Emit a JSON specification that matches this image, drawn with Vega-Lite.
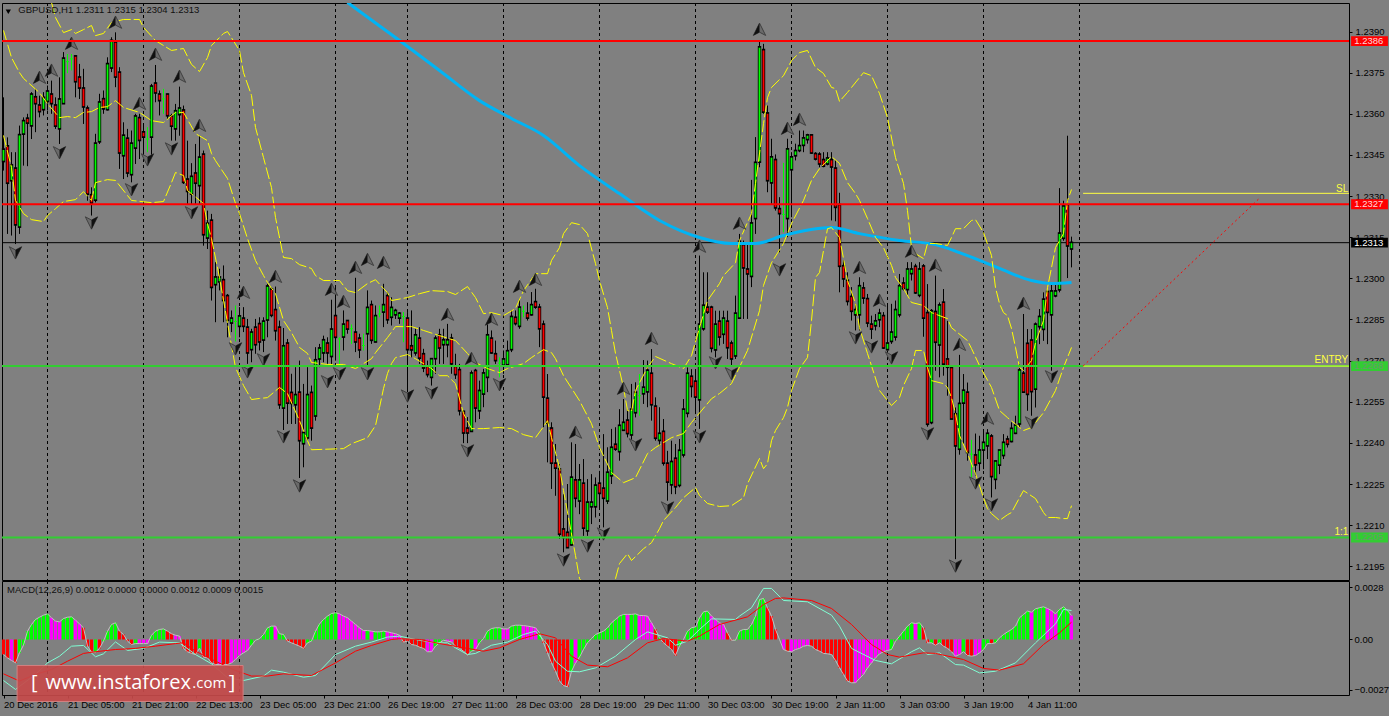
{"$schema":"https://vega.github.io/schema/vega-lite/v6.json","usermeta":{"embedOptions":{"actions":false}},"background":"#808080","padding":{"left":0,"top":2,"right":1,"bottom":7},"autosize":{"type":"pad"},"spacing":-1,"config":{"view":{"stroke":"#000000","strokeWidth":1},"concat":{"spacing":-1},"text":{"font":"Liberation Sans"},"axis":{"grid":false,"domain":false,"tickSize":3,"tickColor":"#000000","labelColor":"#000000","labelFont":"Liberation Sans","labelFontSize":9.5,"labelOverlap":false,"labelFlush":false,"labelBound":false}},
"datasets":{
"seps":[{"i":11},{"i":35},{"i":59},{"i":83},{"i":101},{"i":125},{"i":149},{"i":173},{"i":197},{"i":221},{"i":245},{"i":269}],
"candles":[
{"i":0,"o":1.23429,"h":1.2366,"l":1.23393,"c":1.23468},{"i":1,"o":1.2348,"h":1.23514,"l":1.23162,"c":1.2335},{"i":2,"o":1.23359,"h":1.2346,"l":1.23156,"c":1.23411},{"i":3,"o":1.23399,"h":1.2346,"l":1.23125,"c":1.23198},{"i":4,"o":1.2319,"h":1.23557,"l":1.23162,"c":1.23521},{"i":5,"o":1.23529,"h":1.23587,"l":1.23411,"c":1.23572},{"i":6,"o":1.23581,"h":1.236,"l":1.23409,"c":1.23569},{"i":7,"o":1.23559,"h":1.23679,"l":1.23508,"c":1.23669},{"i":8,"o":1.23659,"h":1.23691,"l":1.23533,"c":1.2364},{"i":9,"o":1.23629,"h":1.23666,"l":1.23587,"c":1.23611},
{"i":10,"o":1.23618,"h":1.23679,"l":1.23594,"c":1.23657},{"i":11,"o":1.23648,"h":1.23703,"l":1.23612,"c":1.2368},{"i":12,"o":1.23669,"h":1.23721,"l":1.236,"c":1.2364},{"i":13,"o":1.23629,"h":1.2366,"l":1.23545,"c":1.23558},{"i":14,"o":1.23548,"h":1.23733,"l":1.2349,"c":1.23651},{"i":15,"o":1.2364,"h":1.23825,"l":1.23636,"c":1.238},{"i":16,"o":1.2379,"h":1.23818,"l":1.23748,"c":1.2379},{"i":17,"o":1.238,"h":1.23818,"l":1.23758,"c":1.238},{"i":18,"o":1.23808,"h":1.23812,"l":1.2366,"c":1.2372},{"i":19,"o":1.23731,"h":1.23782,"l":1.23654,"c":1.23697},
{"i":20,"o":1.23691,"h":1.23764,"l":1.23563,"c":1.23628},{"i":21,"o":1.23618,"h":1.2363,"l":1.23283,"c":1.2331},{"i":22,"o":1.23302,"h":1.23332,"l":1.23229,"c":1.23277},{"i":23,"o":1.23288,"h":1.23527,"l":1.23277,"c":1.2349},{"i":24,"o":1.23501,"h":1.23673,"l":1.2349,"c":1.2364},{"i":25,"o":1.23652,"h":1.23685,"l":1.236,"c":1.23621},{"i":26,"o":1.23618,"h":1.23806,"l":1.23612,"c":1.2378},{"i":27,"o":1.2377,"h":1.23879,"l":1.23752,"c":1.23865},{"i":28,"o":1.23859,"h":1.23897,"l":1.23697,"c":1.23737},{"i":29,"o":1.23749,"h":1.2377,"l":1.23399,"c":1.2346},
{"i":30,"o":1.2345,"h":1.23569,"l":1.23362,"c":1.23519},{"i":31,"o":1.23508,"h":1.23545,"l":1.23369,"c":1.23387},{"i":32,"o":1.23381,"h":1.23539,"l":1.2335,"c":1.2349},{"i":33,"o":1.23478,"h":1.236,"l":1.23417,"c":1.23589},{"i":34,"o":1.23583,"h":1.236,"l":1.23435,"c":1.23506},{"i":35,"o":1.23531,"h":1.23557,"l":1.23454,"c":1.23518},{"i":36,"o":1.23508,"h":1.23551,"l":1.2346,"c":1.23508},{"i":37,"o":1.23518,"h":1.23709,"l":1.23441,"c":1.23698},{"i":38,"o":1.23709,"h":1.23778,"l":1.23642,"c":1.23679},{"i":39,"o":1.23669,"h":1.23685,"l":1.23594,"c":1.23651},
{"i":40,"o":1.23654,"h":1.23691,"l":1.236,"c":1.23654},{"i":41,"o":1.23669,"h":1.23673,"l":1.23581,"c":1.23596},{"i":42,"o":1.23589,"h":1.236,"l":1.23502,"c":1.23558},{"i":43,"o":1.23548,"h":1.23636,"l":1.23502,"c":1.23608},{"i":44,"o":1.236,"h":1.23699,"l":1.2352,"c":1.23618},{"i":45,"o":1.23611,"h":1.2363,"l":1.23344,"c":1.23353},{"i":46,"o":1.23359,"h":1.23502,"l":1.23271,"c":1.2332},{"i":47,"o":1.2331,"h":1.2342,"l":1.23269,"c":1.23369},{"i":48,"o":1.23381,"h":1.2349,"l":1.23271,"c":1.2335},{"i":49,"o":1.23341,"h":1.2352,"l":1.23271,"c":1.23439},
{"i":50,"o":1.2345,"h":1.23466,"l":1.23119,"c":1.23162},{"i":51,"o":1.2315,"h":1.23247,"l":1.23107,"c":1.23198},{"i":52,"o":1.23209,"h":1.23235,"l":1.22919,"c":1.2297},{"i":53,"o":1.2298,"h":1.23059,"l":1.2284,"c":1.23002},{"i":54,"o":1.2299,"h":1.23035,"l":1.22956,"c":1.23002},{"i":55,"o":1.22992,"h":1.23047,"l":1.2284,"c":1.22922},{"i":56,"o":1.22934,"h":1.22943,"l":1.22785,"c":1.2285},{"i":57,"o":1.2284,"h":1.22883,"l":1.22804,"c":1.22852},{"i":58,"o":1.22843,"h":1.22901,"l":1.2277,"c":1.22843},{"i":59,"o":1.22828,"h":1.22895,"l":1.22785,"c":1.2286},
{"i":60,"o":1.22852,"h":1.22895,"l":1.22804,"c":1.22828},{"i":61,"o":1.22819,"h":1.22852,"l":1.22688,"c":1.22731},{"i":62,"o":1.22743,"h":1.22816,"l":1.22694,"c":1.22801},{"i":63,"o":1.22819,"h":1.22852,"l":1.22725,"c":1.22761},{"i":64,"o":1.22832,"h":1.22858,"l":1.22737,"c":1.22771},{"i":65,"o":1.22778,"h":1.22858,"l":1.22731,"c":1.22841},{"i":66,"o":1.22851,"h":1.2298,"l":1.22785,"c":1.22969},{"i":67,"o":1.22958,"h":1.22968,"l":1.22858,"c":1.22868},{"i":68,"o":1.22883,"h":1.2297,"l":1.22773,"c":1.22812},{"i":69,"o":1.22819,"h":1.22846,"l":1.22524,"c":1.22542},
{"i":70,"o":1.2253,"h":1.22819,"l":1.22447,"c":1.22751},{"i":71,"o":1.22761,"h":1.22779,"l":1.22469,"c":1.22548},{"i":72,"o":1.22581,"h":1.22652,"l":1.22469,"c":1.22547},{"i":73,"o":1.22542,"h":1.22676,"l":1.22469,"c":1.22573},{"i":74,"o":1.22582,"h":1.227,"l":1.22272,"c":1.22411},{"i":75,"o":1.224,"h":1.22615,"l":1.22311,"c":1.22435},{"i":76,"o":1.22421,"h":1.22676,"l":1.22408,"c":1.22573},{"i":77,"o":1.22581,"h":1.22609,"l":1.22408,"c":1.22457},{"i":78,"o":1.22501,"h":1.22749,"l":1.22481,"c":1.227},{"i":79,"o":1.22709,"h":1.22761,"l":1.22676,"c":1.22743},
{"i":80,"o":1.22731,"h":1.22791,"l":1.22694,"c":1.22773},{"i":81,"o":1.22761,"h":1.22785,"l":1.22688,"c":1.22731},{"i":82,"o":1.22718,"h":1.22922,"l":1.22682,"c":1.22812},{"i":83,"o":1.22861,"h":1.22968,"l":1.227,"c":1.22788},{"i":84,"o":1.22779,"h":1.22785,"l":1.22686,"c":1.22779},{"i":85,"o":1.22789,"h":1.22883,"l":1.22737,"c":1.2283},{"i":86,"o":1.22843,"h":1.22846,"l":1.22798,"c":1.22818},{"i":87,"o":1.22816,"h":1.22832,"l":1.22761,"c":1.22816},{"i":88,"o":1.22801,"h":1.23002,"l":1.22731,"c":1.22771},{"i":89,"o":1.22779,"h":1.22798,"l":1.22709,"c":1.22742},
{"i":90,"o":1.22755,"h":1.22798,"l":1.22737,"c":1.22755},{"i":91,"o":1.22801,"h":1.22956,"l":1.22682,"c":1.22891},{"i":92,"o":1.22901,"h":1.22919,"l":1.22761,"c":1.22777},{"i":93,"o":1.22771,"h":1.22901,"l":1.22767,"c":1.22861},{"i":94,"o":1.2287,"h":1.22901,"l":1.22858,"c":1.2287},{"i":95,"o":1.2288,"h":1.2298,"l":1.22822,"c":1.22901},{"i":96,"o":1.22934,"h":1.2295,"l":1.22834,"c":1.22852},{"i":97,"o":1.22861,"h":1.22931,"l":1.22828,"c":1.22891},{"i":98,"o":1.2287,"h":1.22889,"l":1.22852,"c":1.2288},{"i":99,"o":1.22858,"h":1.22877,"l":1.22834,"c":1.2287},
{"i":100,"o":1.22861,"h":1.22877,"l":1.22767,"c":1.22861},{"i":101,"o":1.22852,"h":1.22877,"l":1.22585,"c":1.22743},{"i":102,"o":1.22751,"h":1.22883,"l":1.22712,"c":1.22742},{"i":103,"o":1.22731,"h":1.22816,"l":1.22718,"c":1.22791},{"i":104,"o":1.22779,"h":1.22822,"l":1.22688,"c":1.22712},{"i":105,"o":1.22722,"h":1.22743,"l":1.22658,"c":1.22676},{"i":106,"o":1.22676,"h":1.227,"l":1.22639,"c":1.22652},{"i":107,"o":1.22642,"h":1.22706,"l":1.22609,"c":1.22704},{"i":108,"o":1.2271,"h":1.22791,"l":1.22652,"c":1.22779},{"i":109,"o":1.22791,"h":1.22816,"l":1.22688,"c":1.22749},
{"i":110,"o":1.22761,"h":1.22816,"l":1.22688,"c":1.22773},{"i":111,"o":1.22761,"h":1.22834,"l":1.22712,"c":1.22773},{"i":112,"o":1.22779,"h":1.22798,"l":1.22652,"c":1.22691},{"i":113,"o":1.22676,"h":1.22725,"l":1.22633,"c":1.22652},{"i":114,"o":1.22664,"h":1.22688,"l":1.225,"c":1.2252},{"i":115,"o":1.22512,"h":1.22518,"l":1.22399,"c":1.22439},{"i":116,"o":1.22451,"h":1.22494,"l":1.22399,"c":1.22439},{"i":117,"o":1.22445,"h":1.22664,"l":1.22445,"c":1.22652},{"i":118,"o":1.22661,"h":1.2267,"l":1.22475,"c":1.2253},{"i":119,"o":1.2252,"h":1.22627,"l":1.22487,"c":1.22588},
{"i":120,"o":1.22581,"h":1.2267,"l":1.2253,"c":1.22652},{"i":121,"o":1.22642,"h":1.22834,"l":1.22585,"c":1.22791},{"i":122,"o":1.22779,"h":1.2281,"l":1.22725,"c":1.22731},{"i":123,"o":1.22722,"h":1.22773,"l":1.22688,"c":1.22703},{"i":124,"o":1.22691,"h":1.22712,"l":1.22639,"c":1.22691},{"i":125,"o":1.22686,"h":1.22737,"l":1.22652,"c":1.22703},{"i":126,"o":1.22688,"h":1.22773,"l":1.22688,"c":1.22733},{"i":127,"o":1.22743,"h":1.22883,"l":1.22731,"c":1.22858},{"i":128,"o":1.22855,"h":1.22883,"l":1.22828,"c":1.22838},{"i":129,"o":1.22828,"h":1.22925,"l":1.22816,"c":1.22892},
{"i":130,"o":1.2288,"h":1.22901,"l":1.22858,"c":1.2288},{"i":131,"o":1.2287,"h":1.22913,"l":1.22846,"c":1.22858},{"i":132,"o":1.2287,"h":1.2295,"l":1.22864,"c":1.22901},{"i":133,"o":1.22912,"h":1.22962,"l":1.22889,"c":1.22898},{"i":134,"o":1.22892,"h":1.22907,"l":1.22749,"c":1.22819},{"i":135,"o":1.2283,"h":1.22846,"l":1.22457,"c":1.2257},{"i":136,"o":1.2256,"h":1.22651,"l":1.22329,"c":1.22475},{"i":137,"o":1.22451,"h":1.22475,"l":1.22232,"c":1.22329},{"i":138,"o":1.22323,"h":1.22396,"l":1.22207,"c":1.22311},{"i":139,"o":1.22302,"h":1.22323,"l":1.2205,"c":1.2207},
{"i":140,"o":1.22083,"h":1.22213,"l":1.22001,"c":1.22058},{"i":141,"o":1.22071,"h":1.2225,"l":1.22019,"c":1.22021},{"i":142,"o":1.22031,"h":1.22402,"l":1.22025,"c":1.22272},{"i":143,"o":1.22262,"h":1.22396,"l":1.22165,"c":1.22201},{"i":144,"o":1.22191,"h":1.22323,"l":1.2214,"c":1.22262},{"i":145,"o":1.2225,"h":1.22341,"l":1.22061,"c":1.22092},{"i":146,"o":1.22082,"h":1.22268,"l":1.22061,"c":1.22181},{"i":147,"o":1.2217,"h":1.22286,"l":1.22104,"c":1.22181},{"i":148,"o":1.2217,"h":1.22274,"l":1.22128,"c":1.22243},{"i":149,"o":1.2225,"h":1.22298,"l":1.22165,"c":1.22219},
{"i":150,"o":1.22232,"h":1.22432,"l":1.22092,"c":1.22201},{"i":151,"o":1.22191,"h":1.22384,"l":1.22177,"c":1.2229},{"i":152,"o":1.22283,"h":1.22451,"l":1.2225,"c":1.22381},{"i":153,"o":1.22392,"h":1.22457,"l":1.22371,"c":1.2238},{"i":154,"o":1.22371,"h":1.22523,"l":1.22335,"c":1.22461},{"i":155,"o":1.22449,"h":1.2256,"l":1.22444,"c":1.22472},{"i":156,"o":1.2248,"h":1.22523,"l":1.2242,"c":1.22437},{"i":157,"o":1.22432,"h":1.22615,"l":1.22396,"c":1.2252},{"i":158,"o":1.22513,"h":1.22621,"l":1.22493,"c":1.22582},{"i":159,"o":1.22572,"h":1.22651,"l":1.22499,"c":1.22572},
{"i":160,"o":1.22582,"h":1.22702,"l":1.22542,"c":1.226},{"i":161,"o":1.22589,"h":1.227,"l":1.2253,"c":1.22662},{"i":162,"o":1.22651,"h":1.22742,"l":1.22481,"c":1.22542},{"i":163,"o":1.22531,"h":1.22566,"l":1.22408,"c":1.2242},{"i":164,"o":1.22412,"h":1.2253,"l":1.2239,"c":1.22432},{"i":165,"o":1.22439,"h":1.22487,"l":1.22317,"c":1.22329},{"i":166,"o":1.22323,"h":1.22371,"l":1.22189,"c":1.2226},{"i":167,"o":1.2225,"h":1.22408,"l":1.22213,"c":1.22329},{"i":168,"o":1.22341,"h":1.22396,"l":1.22213,"c":1.22243},{"i":169,"o":1.22248,"h":1.22414,"l":1.22238,"c":1.2237},
{"i":170,"o":1.22359,"h":1.2256,"l":1.22347,"c":1.2252},{"i":171,"o":1.22511,"h":1.22675,"l":1.22493,"c":1.22651},{"i":172,"o":1.2264,"h":1.22669,"l":1.22566,"c":1.22609},{"i":173,"o":1.22622,"h":1.22669,"l":1.22505,"c":1.2257},{"i":174,"o":1.2256,"h":1.23083,"l":1.22451,"c":1.2283},{"i":175,"o":1.22819,"h":1.23022,"l":1.22809,"c":1.22899},{"i":176,"o":1.22892,"h":1.23022,"l":1.2287,"c":1.2288},{"i":177,"o":1.22892,"h":1.229,"l":1.2273,"c":1.22748},{"i":178,"o":1.22742,"h":1.22882,"l":1.22712,"c":1.2283},{"i":179,"o":1.22841,"h":1.22882,"l":1.22755,"c":1.22789},
{"i":180,"o":1.22799,"h":1.22882,"l":1.22761,"c":1.22852},{"i":181,"o":1.22841,"h":1.22882,"l":1.22706,"c":1.2275},{"i":182,"o":1.22761,"h":1.22773,"l":1.22682,"c":1.22709},{"i":183,"o":1.2272,"h":1.22937,"l":1.22706,"c":1.2287},{"i":184,"o":1.22858,"h":1.23162,"l":1.22852,"c":1.23132},{"i":185,"o":1.2312,"h":1.23138,"l":1.22852,"c":1.23041},{"i":186,"o":1.23031,"h":1.23126,"l":1.22852,"c":1.23019},{"i":187,"o":1.2301,"h":1.23359,"l":1.22968,"c":1.23199},{"i":188,"o":1.23221,"h":1.23515,"l":1.23162,"c":1.2342},{"i":189,"o":1.23427,"h":1.23868,"l":1.23405,"c":1.23841},
{"i":190,"o":1.23831,"h":1.23855,"l":1.236,"c":1.23609},{"i":191,"o":1.236,"h":1.2363,"l":1.23314,"c":1.23359},{"i":192,"o":1.23351,"h":1.23509,"l":1.23272,"c":1.2344},{"i":193,"o":1.2343,"h":1.23452,"l":1.23247,"c":1.2326},{"i":194,"o":1.23251,"h":1.23296,"l":1.23095,"c":1.23239},{"i":195,"o":1.23233,"h":1.23421,"l":1.23168,"c":1.23233},{"i":196,"o":1.23221,"h":1.23509,"l":1.2315,"c":1.23469},{"i":197,"o":1.23399,"h":1.2346,"l":1.23223,"c":1.2344},{"i":198,"o":1.2345,"h":1.23491,"l":1.2343,"c":1.23463},{"i":199,"o":1.23469,"h":1.23539,"l":1.2346,"c":1.23481},
{"i":200,"o":1.23488,"h":1.23539,"l":1.2346,"c":1.23509},{"i":201,"o":1.23509,"h":1.23527,"l":1.23491,"c":1.2352},{"i":202,"o":1.2352,"h":1.23521,"l":1.23454,"c":1.2346},{"i":203,"o":1.23452,"h":1.2346,"l":1.2343,"c":1.23438},{"i":204,"o":1.2345,"h":1.2346,"l":1.23405,"c":1.2342},{"i":205,"o":1.2343,"h":1.2346,"l":1.23405,"c":1.23412},{"i":206,"o":1.2342,"h":1.2346,"l":1.23412,"c":1.23436},{"i":207,"o":1.2343,"h":1.2346,"l":1.23211,"c":1.23409},{"i":208,"o":1.23399,"h":1.2343,"l":1.23208,"c":1.23262},{"i":209,"o":1.23266,"h":1.23312,"l":1.22949,"c":1.23047},
{"i":210,"o":1.23043,"h":1.23065,"l":1.22968,"c":1.23001},{"i":211,"o":1.2299,"h":1.23022,"l":1.22901,"c":1.22919},{"i":212,"o":1.22931,"h":1.22968,"l":1.22846,"c":1.22883},{"i":213,"o":1.2287,"h":1.22907,"l":1.2281,"c":1.22883},{"i":214,"o":1.2287,"h":1.23004,"l":1.2281,"c":1.2297},{"i":215,"o":1.22962,"h":1.22986,"l":1.22907,"c":1.22931},{"i":216,"o":1.22923,"h":1.22943,"l":1.22822,"c":1.2284},{"i":217,"o":1.2283,"h":1.22864,"l":1.22779,"c":1.22818},{"i":218,"o":1.2283,"h":1.2287,"l":1.2281,"c":1.22842},{"i":219,"o":1.22852,"h":1.22889,"l":1.22822,"c":1.2287},
{"i":220,"o":1.22861,"h":1.22877,"l":1.22743,"c":1.22749},{"i":221,"o":1.22743,"h":1.22907,"l":1.22737,"c":1.22761},{"i":222,"o":1.22773,"h":1.22907,"l":1.22761,"c":1.22801},{"i":223,"o":1.22789,"h":1.22919,"l":1.22773,"c":1.22883},{"i":224,"o":1.2287,"h":1.23016,"l":1.22858,"c":1.2297},{"i":225,"o":1.2298,"h":1.23004,"l":1.22956,"c":1.22965},{"i":226,"o":1.22962,"h":1.23059,"l":1.22937,"c":1.23031},{"i":227,"o":1.2302,"h":1.23059,"l":1.22992,"c":1.23031},{"i":228,"o":1.23041,"h":1.23053,"l":1.22943,"c":1.2295},{"i":229,"o":1.22941,"h":1.23059,"l":1.22931,"c":1.23031},
{"i":230,"o":1.23042,"h":1.23052,"l":1.22787,"c":1.22858},{"i":231,"o":1.22872,"h":1.22979,"l":1.22459,"c":1.22471},{"i":232,"o":1.22477,"h":1.22888,"l":1.22468,"c":1.22879},{"i":233,"o":1.22876,"h":1.2301,"l":1.22663,"c":1.2277},{"i":234,"o":1.2276,"h":1.22912,"l":1.22639,"c":1.229},{"i":235,"o":1.2291,"h":1.22961,"l":1.22645,"c":1.2269},{"i":236,"o":1.22703,"h":1.22845,"l":1.22572,"c":1.22679},{"i":237,"o":1.22672,"h":1.22681,"l":1.22487,"c":1.2249},{"i":238,"o":1.22503,"h":1.22529,"l":1.21976,"c":1.22392},{"i":239,"o":1.2238,"h":1.22721,"l":1.22357,"c":1.22541},
{"i":240,"o":1.22548,"h":1.22651,"l":1.22395,"c":1.22589},{"i":241,"o":1.22582,"h":1.2262,"l":1.22335,"c":1.22368},{"i":242,"o":1.22359,"h":1.22411,"l":1.22274,"c":1.22359},{"i":243,"o":1.22353,"h":1.22434,"l":1.2228,"c":1.22323},{"i":244,"o":1.22329,"h":1.22426,"l":1.22298,"c":1.22371},{"i":245,"o":1.22377,"h":1.2245,"l":1.22304,"c":1.22399},{"i":246,"o":1.22392,"h":1.2245,"l":1.22341,"c":1.22432},{"i":247,"o":1.22422,"h":1.22432,"l":1.22201,"c":1.2228},{"i":248,"o":1.2227,"h":1.22335,"l":1.22231,"c":1.22331},{"i":249,"o":1.22322,"h":1.22371,"l":1.22286,"c":1.22371},
{"i":250,"o":1.22357,"h":1.22432,"l":1.22341,"c":1.22399},{"i":251,"o":1.22411,"h":1.22426,"l":1.22383,"c":1.22398},{"i":252,"o":1.22408,"h":1.22475,"l":1.22402,"c":1.2245},{"i":253,"o":1.22438,"h":1.22499,"l":1.22432,"c":1.22462},{"i":254,"o":1.22472,"h":1.22687,"l":1.22456,"c":1.22663},{"i":255,"o":1.22651,"h":1.2287,"l":1.22584,"c":1.22588},{"i":256,"o":1.2276,"h":1.22815,"l":1.22517,"c":1.2258},{"i":257,"o":1.22772,"h":1.22815,"l":1.22499,"c":1.2259},{"i":258,"o":1.22599,"h":1.22839,"l":1.22529,"c":1.2283},{"i":259,"o":1.22827,"h":1.22888,"l":1.2276,"c":1.22858},
{"i":260,"o":1.22817,"h":1.22949,"l":1.22772,"c":1.22921},{"i":261,"o":1.22949,"h":1.22949,"l":1.2276,"c":1.22879},{"i":262,"o":1.2287,"h":1.22979,"l":1.22663,"c":1.22951},{"i":263,"o":1.22939,"h":1.22979,"l":1.22931,"c":1.22951},{"i":264,"o":1.22961,"h":1.23329,"l":1.22949,"c":1.23162},{"i":265,"o":1.23149,"h":1.23283,"l":1.23137,"c":1.23261},{"i":266,"o":1.23265,"h":1.2352,"l":1.23001,"c":1.23121},{"i":267,"o":1.2311,"h":1.23152,"l":1.2304,"c":1.23128}],
"up":[{"i":9,"p":1.23732},{"i":12,"p":1.23758},{"i":17,"p":1.23856},{"i":28,"p":1.23933},{"i":34,"p":1.23637},{"i":38,"p":1.23816},{"i":44,"p":1.23736},{"i":49,"p":1.23557},{"i":60,"p":1.22948},{"i":68,"p":1.23006},{"i":82,"p":1.22959},{"i":85,"p":1.22915},{"i":88,"p":1.23039},{"i":91,"p":1.23068},{"i":95,"p":1.23057},{"i":111,"p":1.22868},{"i":117,"p":1.22707},{"i":122,"p":1.2285},{"i":129,"p":1.2297},{"i":133,"p":1.22995},{"i":143,"p":1.22438},{"i":155,"p":1.22598},{"i":162,"p":1.2278},{"i":174,"p":1.23116},{"i":184,"p":1.232},{"i":189,"p":1.23907},{"i":196,"p":1.23546},{"i":199,"p":1.23579},{"i":214,"p":1.23039},{"i":219,"p":1.22919},{"i":227,"p":1.23098},{"i":233,"p":1.23047},{"i":239,"p":1.22758},{"i":246,"p":1.22489},{"i":255,"p":1.22908}],
"down":[{"i":3,"p":1.23094},{"i":14,"p":1.23459},{"i":22,"p":1.23203},{"i":32,"p":1.23324},{"i":36,"p":1.23433},{"i":42,"p":1.23473},{"i":47,"p":1.2324},{"i":58,"p":1.22744},{"i":61,"p":1.2266},{"i":65,"p":1.22704},{"i":70,"p":1.22423},{"i":74,"p":1.22244},{"i":81,"p":1.22624},{"i":84,"p":1.22653},{"i":91,"p":1.22653},{"i":101,"p":1.22572},{"i":107,"p":1.22583},{"i":116,"p":1.22372},{"i":124,"p":1.22613},{"i":140,"p":1.21974},{"i":146,"p":1.22025},{"i":150,"p":1.22069},{"i":158,"p":1.22394},{"i":166,"p":1.22164},{"i":174,"p":1.22423},{"i":178,"p":1.22693},{"i":182,"p":1.22653},{"i":194,"p":1.23032},{"i":213,"p":1.22784},{"i":217,"p":1.22751},{"i":222,"p":1.22711},{"i":231,"p":1.22434},{"i":238,"p":1.21952},{"i":243,"p":1.22255},{"i":247,"p":1.22175},{"i":257,"p":1.22474},{"i":262,"p":1.22642}],
"ma":[{"i":86,"p":1.24006},{"i":99,"p":1.23867},{"i":109,"p":1.23758},{"i":119,"p":1.23648},{"i":127,"p":1.23583},{"i":135,"p":1.23521},{"i":144,"p":1.23411},{"i":154,"p":1.23309},{"i":164,"p":1.23211},{"i":174,"p":1.23149},{"i":182,"p":1.23127},{"i":188,"p":1.23127},{"i":195,"p":1.23156},{"i":207,"p":1.23185},{"i":214,"p":1.23163},{"i":224,"p":1.23138},{"i":233,"p":1.23123},{"i":239,"p":1.23094},{"i":249,"p":1.23036},{"i":257,"p":1.22992},{"i":262,"p":1.22981},{"i":267,"p":1.22985}],
"bmid":[{"i":0,"p":1.23904},{"i":2,"p":1.23805},{"i":4,"p":1.2375},{"i":5,"p":1.23729},{"i":9,"p":1.23677},{"i":11,"p":1.23637},{"i":14,"p":1.23586},{"i":16,"p":1.2359},{"i":18,"p":1.23586},{"i":20,"p":1.23605},{"i":22,"p":1.23608},{"i":24,"p":1.23623},{"i":26,"p":1.23626},{"i":28,"p":1.23648},{"i":30,"p":1.23623},{"i":34,"p":1.23605},{"i":37,"p":1.23575},{"i":40,"p":1.23568},{"i":43,"p":1.23605},{"i":45,"p":1.23605},{"i":48,"p":1.23528},{"i":51,"p":1.23502},{"i":52,"p":1.23455},{"i":53,"p":1.23429},{"i":56,"p":1.23364},{"i":58,"p":1.23273},{"i":59,"p":1.23236},{"i":61,"p":1.23145},{"i":63,"p":1.23065},{"i":65,"p":1.2301},{"i":66,"p":1.22985},{"i":68,"p":1.22944},{"i":70,"p":1.22846},{"i":72,"p":1.22802},{"i":74,"p":1.22748},{"i":76,"p":1.22726},{"i":77,"p":1.22693},{"i":81,"p":1.22686},{"i":85,"p":1.22686},{"i":88,"p":1.22671},{"i":90,"p":1.22689},{"i":92,"p":1.22707},{"i":93,"p":1.22729},{"i":96,"p":1.22784},{"i":98,"p":1.22824},{"i":102,"p":1.22824},{"i":105,"p":1.2281},{"i":109,"p":1.22791},{"i":113,"p":1.22773},{"i":116,"p":1.22726},{"i":118,"p":1.22693},{"i":121,"p":1.22671},{"i":124,"p":1.22656},{"i":126,"p":1.22671},{"i":130,"p":1.22689},{"i":132,"p":1.22711},{"i":135,"p":1.2274},{"i":137,"p":1.22729},{"i":138,"p":1.22707},{"i":140,"p":1.22645},{"i":144,"p":1.22554},{"i":147,"p":1.2247},{"i":149,"p":1.22383},{"i":152,"p":1.22292},{"i":155,"p":1.22255},{"i":158,"p":1.22273},{"i":161,"p":1.22361},{"i":163,"p":1.22383},{"i":167,"p":1.22419},{"i":170,"p":1.22434},{"i":172,"p":1.22474},{"i":177,"p":1.22561},{"i":179,"p":1.2258},{"i":182,"p":1.22616},{"i":186,"p":1.22737},{"i":189,"p":1.22882},{"i":190,"p":1.22974},{"i":192,"p":1.23057},{"i":195,"p":1.23127},{"i":197,"p":1.232},{"i":200,"p":1.23284},{"i":202,"p":1.23357},{"i":204,"p":1.234},{"i":207,"p":1.23444},{"i":209,"p":1.23419},{"i":211,"p":1.23349},{"i":213,"p":1.23309},{"i":214,"p":1.23284},{"i":216,"p":1.23218},{"i":218,"p":1.23149},{"i":220,"p":1.23112},{"i":222,"p":1.23047},{"i":223,"p":1.23003},{"i":225,"p":1.22963},{"i":227,"p":1.22912},{"i":230,"p":1.22901},{"i":232,"p":1.22875},{"i":236,"p":1.22853},{"i":237,"p":1.2282},{"i":241,"p":1.22773},{"i":242,"p":1.22744},{"i":244,"p":1.22682},{"i":247,"p":1.22602},{"i":249,"p":1.22518},{"i":251,"p":1.22492},{"i":255,"p":1.22445},{"i":257,"p":1.22456},{"i":260,"p":1.2251},{"i":263,"p":1.22591},{"i":265,"p":1.22675},{"i":267,"p":1.22748}],
"bup":[{"i":12,"p":1.24006},{"i":13,"p":1.23951},{"i":15,"p":1.23896},{"i":17,"p":1.23907},{"i":18,"p":1.23893},{"i":20,"p":1.23907},{"i":22,"p":1.23922},{"i":23,"p":1.23885},{"i":25,"p":1.23893},{"i":27,"p":1.23933},{"i":30,"p":1.23944},{"i":34,"p":1.23944},{"i":35,"p":1.23915},{"i":38,"p":1.23867},{"i":42,"p":1.23831},{"i":45,"p":1.23838},{"i":47,"p":1.2378},{"i":49,"p":1.23754},{"i":51,"p":1.23805},{"i":52,"p":1.23849},{"i":55,"p":1.23893},{"i":56,"p":1.239},{"i":59,"p":1.23831},{"i":60,"p":1.2375},{"i":62,"p":1.23667},{"i":63,"p":1.2355},{"i":65,"p":1.2344},{"i":67,"p":1.23331},{"i":68,"p":1.23222},{"i":70,"p":1.23076},{"i":72,"p":1.23072},{"i":74,"p":1.2305},{"i":77,"p":1.23036},{"i":78,"p":1.2301},{"i":80,"p":1.22992},{"i":84,"p":1.22992},{"i":86,"p":1.22955},{"i":88,"p":1.22948},{"i":91,"p":1.22981},{"i":93,"p":1.22995},{"i":95,"p":1.22963},{"i":96,"p":1.22948},{"i":97,"p":1.22919},{"i":101,"p":1.2293},{"i":104,"p":1.22944},{"i":107,"p":1.22955},{"i":111,"p":1.22952},{"i":113,"p":1.22941},{"i":116,"p":1.2297},{"i":118,"p":1.2293},{"i":120,"p":1.22871},{"i":122,"p":1.22875},{"i":125,"p":1.22864},{"i":128,"p":1.2289},{"i":130,"p":1.22955},{"i":133,"p":1.23017},{"i":136,"p":1.23017},{"i":137,"p":1.23065},{"i":139,"p":1.23112},{"i":140,"p":1.23163},{"i":142,"p":1.23203},{"i":144,"p":1.23196},{"i":146,"p":1.23163},{"i":148,"p":1.23054},{"i":149,"p":1.22992},{"i":151,"p":1.22893},{"i":152,"p":1.2281},{"i":153,"p":1.22726},{"i":154,"p":1.22664},{"i":155,"p":1.22602},{"i":156,"p":1.22518},{"i":157,"p":1.22514},{"i":158,"p":1.22591},{"i":161,"p":1.22675},{"i":163,"p":1.22715},{"i":167,"p":1.22689},{"i":170,"p":1.22671},{"i":172,"p":1.22718},{"i":174,"p":1.2282},{"i":176,"p":1.22919},{"i":179,"p":1.22981},{"i":180,"p":1.2301},{"i":183,"p":1.23057},{"i":184,"p":1.23138},{"i":187,"p":1.23236},{"i":188,"p":1.23346},{"i":190,"p":1.23564},{"i":191,"p":1.23659},{"i":192,"p":1.23696},{"i":195,"p":1.23739},{"i":197,"p":1.23794},{"i":199,"p":1.23823},{"i":201,"p":1.23831},{"i":203,"p":1.23769},{"i":205,"p":1.23747},{"i":207,"p":1.23696},{"i":208,"p":1.23692},{"i":209,"p":1.23645},{"i":211,"p":1.23678},{"i":214,"p":1.23732},{"i":215,"p":1.2375},{"i":217,"p":1.23739},{"i":219,"p":1.23674},{"i":221,"p":1.23586},{"i":223,"p":1.2344},{"i":225,"p":1.23346},{"i":226,"p":1.23247},{"i":227,"p":1.23112},{"i":228,"p":1.2309},{"i":230,"p":1.23072},{"i":231,"p":1.23127},{"i":233,"p":1.23127},{"i":236,"p":1.2312},{"i":237,"p":1.23149},{"i":238,"p":1.23181},{"i":240,"p":1.23181},{"i":242,"p":1.23211},{"i":243,"p":1.23214},{"i":245,"p":1.23167},{"i":247,"p":1.23083},{"i":248,"p":1.22966},{"i":249,"p":1.22908},{"i":250,"p":1.22875},{"i":251,"p":1.22864},{"i":252,"p":1.22817},{"i":253,"p":1.22748},{"i":254,"p":1.22675},{"i":255,"p":1.22664},{"i":257,"p":1.227},{"i":258,"p":1.22766},{"i":260,"p":1.22846},{"i":261,"p":1.22966},{"i":263,"p":1.23112},{"i":265,"p":1.23163},{"i":266,"p":1.23284},{"i":267,"p":1.23324}],
"blow":[{"i":0,"p":1.23521},{"i":2,"p":1.23404},{"i":3,"p":1.23284},{"i":5,"p":1.23236},{"i":7,"p":1.23214},{"i":10,"p":1.23207},{"i":11,"p":1.23229},{"i":13,"p":1.23254},{"i":15,"p":1.2328},{"i":18,"p":1.23287},{"i":20,"p":1.23316},{"i":22,"p":1.23284},{"i":23,"p":1.23349},{"i":26,"p":1.2336},{"i":28,"p":1.23357},{"i":31,"p":1.23302},{"i":32,"p":1.23284},{"i":37,"p":1.23276},{"i":40,"p":1.2328},{"i":42,"p":1.23349},{"i":43,"p":1.23386},{"i":45,"p":1.23375},{"i":46,"p":1.2332},{"i":50,"p":1.23273},{"i":51,"p":1.232},{"i":52,"p":1.23145},{"i":54,"p":1.23003},{"i":57,"p":1.22755},{"i":58,"p":1.22675},{"i":60,"p":1.22609},{"i":62,"p":1.22558},{"i":64,"p":1.22562},{"i":66,"p":1.22565},{"i":69,"p":1.22602},{"i":71,"p":1.2258},{"i":74,"p":1.22481},{"i":76,"p":1.22408},{"i":77,"p":1.22375},{"i":85,"p":1.22379},{"i":87,"p":1.22397},{"i":91,"p":1.22419},{"i":93,"p":1.22463},{"i":94,"p":1.22529},{"i":95,"p":1.22598},{"i":96,"p":1.22653},{"i":97,"p":1.22689},{"i":98,"p":1.22711},{"i":101,"p":1.22722},{"i":103,"p":1.22707},{"i":107,"p":1.22671},{"i":109,"p":1.22645},{"i":111,"p":1.22645},{"i":113,"p":1.22616},{"i":115,"p":1.22507},{"i":117,"p":1.22452},{"i":120,"p":1.22452},{"i":124,"p":1.22456},{"i":127,"p":1.22452},{"i":130,"p":1.2243},{"i":133,"p":1.22419},{"i":135,"p":1.22459},{"i":136,"p":1.22481},{"i":137,"p":1.22419},{"i":139,"p":1.2231},{"i":140,"p":1.22226},{"i":143,"p":1.21989},{"i":144,"p":1.21905},{"i":148,"p":1.21825},{"i":152,"p":1.21861},{"i":153,"p":1.21905},{"i":154,"p":1.2196},{"i":156,"p":1.21996},{"i":157,"p":1.21971},{"i":160,"p":1.22014},{"i":162,"p":1.22036},{"i":164,"p":1.22087},{"i":165,"p":1.22117},{"i":168,"p":1.22164},{"i":170,"p":1.222},{"i":173,"p":1.22237},{"i":174,"p":1.22208},{"i":176,"p":1.22179},{"i":179,"p":1.22168},{"i":182,"p":1.22171},{"i":185,"p":1.222},{"i":186,"p":1.22251},{"i":189,"p":1.22343},{"i":190,"p":1.22306},{"i":191,"p":1.22324},{"i":192,"p":1.22408},{"i":193,"p":1.22445},{"i":195,"p":1.22492},{"i":196,"p":1.22529},{"i":197,"p":1.22591},{"i":199,"p":1.22671},{"i":201,"p":1.22711},{"i":202,"p":1.22846},{"i":203,"p":1.23003},{"i":204,"p":1.23021},{"i":205,"p":1.23101},{"i":206,"p":1.23181},{"i":207,"p":1.23185},{"i":209,"p":1.23149},{"i":210,"p":1.23072},{"i":211,"p":1.22992},{"i":213,"p":1.22908},{"i":214,"p":1.2282},{"i":216,"p":1.22726},{"i":219,"p":1.22591},{"i":222,"p":1.22536},{"i":224,"p":1.22565},{"i":225,"p":1.22609},{"i":227,"p":1.22671},{"i":228,"p":1.22737},{"i":230,"p":1.22737},{"i":231,"p":1.22675},{"i":232,"p":1.22627},{"i":235,"p":1.22616},{"i":236,"p":1.22602},{"i":237,"p":1.22565},{"i":238,"p":1.22507},{"i":239,"p":1.22427},{"i":241,"p":1.22361},{"i":243,"p":1.22288},{"i":245,"p":1.222},{"i":246,"p":1.2216},{"i":247,"p":1.22142},{"i":249,"p":1.22117},{"i":251,"p":1.22138},{"i":252,"p":1.22146},{"i":254,"p":1.222},{"i":255,"p":1.22226},{"i":258,"p":1.22197},{"i":260,"p":1.22146},{"i":261,"p":1.22128},{"i":263,"p":1.22128},{"i":265,"p":1.22124},{"i":266,"p":1.22124},{"i":267,"p":1.22171}],
"hist":[{"i":0,"m":-0.00081,"t":"r"},{"i":1,"m":-0.00099,"t":"r"},{"i":2,"m":-0.00113,"t":"m"},{"i":3,"m":-0.00126,"t":"r"},{"i":4,"m":-0.00072,"t":"g"},{"i":5,"m":-0.00031,"t":"g"},{"i":6,"m":0.00045,"t":"g"},{"i":7,"m":0.00081,"t":"g"},{"i":8,"m":0.00108,"t":"g"},{"i":9,"m":0.0012,"t":"g"},{"i":10,"m":0.00131,"t":"g"},{"i":11,"m":0.00138,"t":"g"},{"i":12,"m":0.00117,"t":"m"},{"i":13,"m":0.00099,"t":"m"},{"i":14,"m":0.00095,"t":"m"},{"i":15,"m":0.00113,"t":"g"},{"i":16,"m":0.0012,"t":"g"},{"i":17,"m":0.00122,"t":"g"},{"i":18,"m":0.00104,"t":"m"},{"i":19,"m":0.00084,"t":"m"},{"i":20,"m":0.00063,"t":"r"},{"i":21,"m":-0.00036,"t":"r"},{"i":22,"m":-0.00068,"t":"r"},{"i":23,"m":-0.00068,"t":"g"},{"i":24,"m":-0.00048,"t":"r"},{"i":25,"m":-0.00009,"t":"g"},{"i":26,"m":0.00045,"t":"g"},{"i":27,"m":0.00081,"t":"g"},{"i":28,"m":0.0009,"t":"g"},{"i":29,"m":0.00045,"t":"r"},{"i":30,"m":0.00027,"t":"r"},{"i":31,"m":-0.00009,"t":"r"},{"i":32,"m":-0.00027,"t":"r"},{"i":33,"m":-0.00022,"t":"g"},{"i":34,"m":-0.00022,"t":"m"},{"i":35,"m":-0.00022,"t":"m"},{"i":36,"m":-0.00022,"t":"m"},{"i":37,"m":0.00023,"t":"g"},{"i":38,"m":0.00045,"t":"g"},{"i":39,"m":0.00054,"t":"g"},{"i":40,"m":0.00057,"t":"g"},{"i":41,"m":0.00045,"t":"r"},{"i":42,"m":0.00031,"t":"r"},{"i":43,"m":0.00023,"t":"m"},{"i":44,"m":0.00018,"t":"m"},{"i":45,"m":-0.00048,"t":"r"},{"i":46,"m":-0.00066,"t":"r"},{"i":47,"m":-0.00075,"t":"r"},{"i":48,"m":-0.00081,"t":"r"},{"i":49,"m":-0.00048,"t":"g"},{"i":50,"m":-0.00095,"t":"r"},{"i":51,"m":-0.00099,"t":"r"},{"i":52,"m":-0.00126,"t":"r"},{"i":53,"m":-0.00135,"t":"r"},{"i":54,"m":-0.00135,"t":"m"},{"i":55,"m":-0.00135,"t":"r"},{"i":56,"m":-0.00135,"t":"r"},{"i":57,"m":-0.00126,"t":"m"},{"i":58,"m":-0.00108,"t":"m"},{"i":59,"m":-0.00086,"t":"m"},{"i":60,"m":-0.00072,"t":"m"},{"i":61,"m":-0.00059,"t":"m"},{"i":62,"m":-0.00031,"t":"g"},{"i":63,"m":-0.00004,"t":"g"},{"i":64,"m":0.00004,"t":"g"},{"i":65,"m":0.00027,"t":"g"},{"i":66,"m":0.00063,"t":"g"},{"i":67,"m":0.00072,"t":"g"},{"i":68,"m":0.00072,"t":"m"},{"i":69,"m":0.00031,"t":"g"},{"i":70,"m":0.00027,"t":"g"},{"i":71,"m":-0.00009,"t":"r"},{"i":72,"m":-0.00018,"t":"r"},{"i":73,"m":-0.00027,"t":"r"},{"i":74,"m":-0.00036,"t":"r"},{"i":75,"m":-0.00048,"t":"r"},{"i":76,"m":-0.00018,"t":"g"},{"i":77,"m":-0.00009,"t":"g"},{"i":78,"m":0.00045,"t":"g"},{"i":79,"m":0.00084,"t":"g"},{"i":80,"m":0.00108,"t":"g"},{"i":81,"m":0.00126,"t":"g"},{"i":82,"m":0.0014,"t":"g"},{"i":83,"m":0.00144,"t":"g"},{"i":84,"m":0.00138,"t":"m"},{"i":85,"m":0.00126,"t":"m"},{"i":86,"m":0.00117,"t":"m"},{"i":87,"m":0.00099,"t":"m"},{"i":88,"m":0.00081,"t":"m"},{"i":89,"m":0.00063,"t":"m"},{"i":90,"m":0.00048,"t":"m"},{"i":91,"m":0.00048,"t":"g"},{"i":92,"m":0.00045,"t":"m"},{"i":93,"m":0.00041,"t":"g"},{"i":94,"m":0.00041,"t":"g"},{"i":95,"m":0.00045,"t":"g"},{"i":96,"m":0.00041,"t":"m"},{"i":97,"m":0.00036,"t":"m"},{"i":98,"m":0.00031,"t":"m"},{"i":99,"m":0.00023,"t":"m"},{"i":100,"m":-0.00014,"t":"r"},{"i":101,"m":-0.00009,"t":"r"},{"i":102,"m":-0.00027,"t":"r"},{"i":103,"m":-0.00031,"t":"r"},{"i":104,"m":-0.00041,"t":"r"},{"i":105,"m":-0.00048,"t":"r"},{"i":106,"m":-0.00066,"t":"m"},{"i":107,"m":-0.00066,"t":"m"},{"i":108,"m":-0.00036,"t":"g"},{"i":109,"m":-0.00018,"t":"g"},{"i":110,"m":-0.00004,"t":"g"},{"i":111,"m":-0.00009,"t":"m"},{"i":112,"m":-0.00013,"t":"m"},{"i":113,"m":-0.00036,"t":"r"},{"i":114,"m":-0.00048,"t":"r"},{"i":115,"m":-0.00063,"t":"r"},{"i":116,"m":-0.00084,"t":"r"},{"i":117,"m":-0.00063,"t":"g"},{"i":118,"m":-0.00054,"t":"m"},{"i":119,"m":-0.00018,"t":"g"},{"i":120,"m":0.00005,"t":"g"},{"i":121,"m":0.00045,"t":"g"},{"i":122,"m":0.00059,"t":"g"},{"i":123,"m":0.00063,"t":"g"},{"i":124,"m":0.00063,"t":"g"},{"i":125,"m":0.00057,"t":"m"},{"i":126,"m":0.00057,"t":"m"},{"i":127,"m":0.00072,"t":"g"},{"i":128,"m":0.00077,"t":"g"},{"i":129,"m":0.00077,"t":"g"},{"i":130,"m":0.00075,"t":"m"},{"i":131,"m":0.00072,"t":"m"},{"i":132,"m":0.00068,"t":"m"},{"i":133,"m":0.00063,"t":"m"},{"i":134,"m":0.00036,"t":"g"},{"i":135,"m":-0.00018,"t":"r"},{"i":136,"m":-0.00072,"t":"r"},{"i":137,"m":-0.00126,"t":"r"},{"i":138,"m":-0.00171,"t":"r"},{"i":139,"m":-0.00224,"t":"r"},{"i":140,"m":-0.00248,"t":"r"},{"i":141,"m":-0.00255,"t":"r"},{"i":142,"m":-0.00171,"t":"g"},{"i":143,"m":-0.00126,"t":"m"},{"i":144,"m":-0.00095,"t":"g"},{"i":145,"m":-0.00054,"t":"g"},{"i":146,"m":-0.00018,"t":"g"},{"i":147,"m":0.00005,"t":"g"},{"i":148,"m":0.00027,"t":"g"},{"i":149,"m":0.00036,"t":"g"},{"i":150,"m":0.00045,"t":"g"},{"i":151,"m":0.00063,"t":"g"},{"i":152,"m":0.0009,"t":"g"},{"i":153,"m":0.00108,"t":"g"},{"i":154,"m":0.00126,"t":"g"},{"i":155,"m":0.00135,"t":"g"},{"i":156,"m":0.00135,"t":"m"},{"i":157,"m":0.00135,"t":"g"},{"i":158,"m":0.00138,"t":"g"},{"i":159,"m":0.00129,"t":"m"},{"i":160,"m":0.00129,"t":"m"},{"i":161,"m":0.00126,"t":"m"},{"i":162,"m":0.0009,"t":"m"},{"i":163,"m":0.00054,"t":"r"},{"i":164,"m":0.00009,"t":"g"},{"i":165,"m":-0.00018,"t":"r"},{"i":166,"m":-0.00036,"t":"r"},{"i":167,"m":-0.00054,"t":"r"},{"i":168,"m":-0.00086,"t":"r"},{"i":169,"m":-0.00036,"t":"g"},{"i":170,"m":0,"t":"g"},{"i":171,"m":0.00045,"t":"g"},{"i":172,"m":0.00063,"t":"g"},{"i":173,"m":0.00068,"t":"g"},{"i":174,"m":0.00117,"t":"g"},{"i":175,"m":0.00149,"t":"g"},{"i":176,"m":0.00153,"t":"g"},{"i":177,"m":0.00126,"t":"m"},{"i":178,"m":0.00108,"t":"m"},{"i":179,"m":0.0009,"t":"m"},{"i":180,"m":0.00081,"t":"m"},{"i":181,"m":0.00036,"t":"r"},{"i":182,"m":-0.00004,"t":"r"},{"i":183,"m":-0.00004,"t":"g"},{"i":184,"m":0.00045,"t":"g"},{"i":185,"m":0.00054,"t":"g"},{"i":186,"m":0.00054,"t":"g"},{"i":187,"m":0.00081,"t":"g"},{"i":188,"m":0.00126,"t":"g"},{"i":189,"m":0.00215,"t":"g"},{"i":190,"m":0.00221,"t":"g"},{"i":191,"m":0.00171,"t":"r"},{"i":192,"m":0.00126,"t":"r"},{"i":193,"m":0.00054,"t":"r"},{"i":194,"m":0,"t":"r"},{"i":195,"m":-0.00054,"t":"m"},{"i":196,"m":-0.00063,"t":"r"},{"i":197,"m":-0.00066,"t":"m"},{"i":198,"m":-0.00054,"t":"m"},{"i":199,"m":-0.00048,"t":"m"},{"i":200,"m":-0.00036,"t":"m"},{"i":201,"m":-0.00032,"t":"m"},{"i":202,"m":-0.00036,"t":"r"},{"i":203,"m":-0.00054,"t":"r"},{"i":204,"m":-0.00063,"t":"r"},{"i":205,"m":-0.00075,"t":"r"},{"i":206,"m":-0.00077,"t":"r"},{"i":207,"m":-0.00081,"t":"r"},{"i":208,"m":-0.00113,"t":"r"},{"i":209,"m":-0.00153,"t":"r"},{"i":210,"m":-0.00188,"t":"r"},{"i":211,"m":-0.00224,"t":"r"},{"i":212,"m":-0.00233,"t":"r"},{"i":213,"m":-0.00233,"t":"m"},{"i":214,"m":-0.0021,"t":"m"},{"i":215,"m":-0.00188,"t":"m"},{"i":216,"m":-0.00153,"t":"m"},{"i":217,"m":-0.00126,"t":"m"},{"i":218,"m":-0.00099,"t":"m"},{"i":219,"m":-0.00077,"t":"m"},{"i":220,"m":-0.00066,"t":"m"},{"i":221,"m":-0.00059,"t":"m"},{"i":222,"m":-0.00054,"t":"g"},{"i":223,"m":-0.00009,"t":"g"},{"i":224,"m":0.00018,"t":"g"},{"i":225,"m":0.00045,"t":"g"},{"i":226,"m":0.00072,"t":"g"},{"i":227,"m":0.0009,"t":"g"},{"i":228,"m":0.00086,"t":"m"},{"i":229,"m":0.0009,"t":"g"},{"i":230,"m":0.00063,"t":"r"},{"i":231,"m":-0.00018,"t":"r"},{"i":232,"m":-0.00018,"t":"g"},{"i":233,"m":-0.00031,"t":"r"},{"i":234,"m":-0.00018,"t":"g"},{"i":235,"m":-0.00036,"t":"r"},{"i":236,"m":-0.00048,"t":"r"},{"i":237,"m":-0.00066,"t":"r"},{"i":238,"m":-0.0009,"t":"m"},{"i":239,"m":-0.00081,"t":"m"},{"i":240,"m":-0.00066,"t":"g"},{"i":241,"m":-0.00086,"t":"r"},{"i":242,"m":-0.0009,"t":"r"},{"i":243,"m":-0.00086,"t":"m"},{"i":244,"m":-0.00072,"t":"m"},{"i":245,"m":-0.00054,"t":"g"},{"i":246,"m":-0.00022,"t":"g"},{"i":247,"m":-0.00022,"t":"r"},{"i":248,"m":-0.00018,"t":"g"},{"i":249,"m":0.00009,"t":"g"},{"i":250,"m":0.00027,"t":"g"},{"i":251,"m":0.00041,"t":"g"},{"i":252,"m":0.00054,"t":"g"},{"i":253,"m":0.00072,"t":"g"},{"i":254,"m":0.00117,"t":"g"},{"i":255,"m":0.00135,"t":"g"},{"i":256,"m":0.00153,"t":"g"},{"i":257,"m":0.00147,"t":"m"},{"i":258,"m":0.00165,"t":"g"},{"i":259,"m":0.00171,"t":"g"},{"i":260,"m":0.00176,"t":"g"},{"i":261,"m":0.00167,"t":"m"},{"i":262,"m":0.00156,"t":"m"},{"i":263,"m":0.00138,"t":"m"},{"i":264,"m":0.00162,"t":"g"},{"i":265,"m":0.00176,"t":"g"},{"i":266,"m":0.00156,"t":"g"},{"i":267,"m":0.00129,"t":"m"}],
"aqua":[{"i":0,"m":-0.00221},{"i":3,"m":-0.00269},{"i":8,"m":-0.00188},{"i":11,"m":-0.00126},{"i":14,"m":-0.0009},{"i":17,"m":-0.00036},{"i":20,"m":-0.00032},{"i":23,"m":-0.00093},{"i":25,"m":-0.00077},{"i":28,"m":-0.00013},{"i":31,"m":-0.00059},{"i":35,"m":-0.00048},{"i":39,"m":-0.00014},{"i":44,"m":-0.00018},{"i":48,"m":-0.00081},{"i":52,"m":-0.00131},{"i":56,"m":-0.00206},{"i":60,"m":-0.00221},{"i":65,"m":-0.00197},{"i":67,"m":-0.00165},{"i":70,"m":-0.00176},{"i":75,"m":-0.00203},{"i":78,"m":-0.00194},{"i":83,"m":-0.00081},{"i":88,"m":-0.00036},{"i":92,"m":-0.00014},{"i":96,"m":0.00013},{"i":99,"m":0.00018},{"i":103,"m":0},{"i":108,"m":-0.00018},{"i":111,"m":-0.00018},{"i":113,"m":-0.00045},{"i":116,"m":-0.00081},{"i":118,"m":-0.00075},{"i":122,"m":-0.00031},{"i":126,"m":-0.00014},{"i":130,"m":0.00027},{"i":133,"m":0.00045},{"i":136,"m":-0.00027},{"i":138,"m":-0.00117},{"i":141,"m":-0.00171},{"i":144,"m":-0.00174},{"i":148,"m":-0.00153},{"i":153,"m":-0.0009},{"i":158,"m":0},{"i":161,"m":0.00041},{"i":166,"m":0.00009},{"i":168,"m":-0.00031},{"i":171,"m":-0.00009},{"i":174,"m":0.00054},{"i":177,"m":0.00111},{"i":183,"m":0.00108},{"i":184,"m":0.00126},{"i":187,"m":0.00171},{"i":190,"m":0.00275},{"i":192,"m":0.00275},{"i":195,"m":0.0021},{"i":201,"m":0.00203},{"i":207,"m":0.00131},{"i":209,"m":0.00072},{"i":212,"m":-0.00048},{"i":218,"m":-0.00113},{"i":222,"m":-0.00131},{"i":227,"m":-0.00066},{"i":229,"m":-0.00045},{"i":231,"m":-0.00081},{"i":234,"m":-0.00072},{"i":238,"m":-0.00135},{"i":240,"m":-0.00138},{"i":244,"m":-0.0018},{"i":248,"m":-0.00171},{"i":253,"m":-0.00126},{"i":258,"m":-0.00018},{"i":263,"m":0.00084},{"i":265,"m":0.00162},{"i":267,"m":0.00156}],
"sig":[{"i":0,"m":-0.00185},{"i":4,"m":-0.00224},{"i":8,"m":-0.00188},{"i":12,"m":-0.00162},{"i":16,"m":-0.00117},{"i":20,"m":-0.00075},{"i":23,"m":-0.00066},{"i":28,"m":-0.00054},{"i":33,"m":-0.00048},{"i":38,"m":-0.00036},{"i":43,"m":-0.00022},{"i":45,"m":-0.00018},{"i":48,"m":-0.00063},{"i":53,"m":-0.00117},{"i":58,"m":-0.00167},{"i":62,"m":-0.00197},{"i":66,"m":-0.00197},{"i":70,"m":-0.00185},{"i":77,"m":-0.00194},{"i":83,"m":-0.00126},{"i":88,"m":-0.00063},{"i":92,"m":-0.00032},{"i":97,"m":0},{"i":99,"m":0.00004},{"i":104,"m":0},{"i":109,"m":-0.00022},{"i":116,"m":-0.00048},{"i":120,"m":-0.00063},{"i":124,"m":-0.00045},{"i":129,"m":0},{"i":134,"m":0.00031},{"i":138,"m":0.00009},{"i":142,"m":-0.0009},{"i":146,"m":-0.00138},{"i":151,"m":-0.00147},{"i":156,"m":-0.00099},{"i":161,"m":-0.00018},{"i":165,"m":0.00005},{"i":171,"m":-0.00009},{"i":174,"m":0.00018},{"i":179,"m":0.00081},{"i":186,"m":0.00122},{"i":190,"m":0.00188},{"i":193,"m":0.00221},{"i":195,"m":0.00224},{"i":202,"m":0.0021},{"i":207,"m":0.00167},{"i":212,"m":0.00081},{"i":217,"m":-0.00027},{"i":221,"m":-0.00081},{"i":224,"m":-0.00095},{"i":230,"m":-0.00072},{"i":233,"m":-0.00075},{"i":240,"m":-0.00108},{"i":245,"m":-0.00156},{"i":249,"m":-0.00165},{"i":255,"m":-0.00131},{"i":260,"m":-0.00027},{"i":264,"m":0.00036},{"i":267,"m":0.00093}]
},
"vconcat":[
{"width":1347,"height":577,"layer":[
{"data":{"name":"seps"},"mark":{"type":"rule","color":"#000000","strokeWidth":1,"strokeDash":[3,3]},"encoding":{"x":{"field":"i","type":"quantitative","scale":{"domain":[-0.375,336.375],"nice":false,"zero":false,"padding":0},"axis":null}}},
{"data":{"values":[{"i":-0.375,"i2":336.375,"p":1.2313}]},"mark":{"type":"rule","color":"#000000","strokeWidth":1},"encoding":{"x":{"field":"i","type":"quantitative","axis":null},"x2":{"field":"i2"},"y":{"field":"p","type":"quantitative","title":null,"scale":{"domain":[1.219,1.24004],"nice":false,"zero":false},"axis":{"orient":"right","title":null,"values":[1.239,1.2375,1.236,1.2345,1.233,1.2315,1.23,1.2285,1.227,1.2255,1.224,1.2225,1.221,1.2195],"format":".4f","labelPadding":3}}}},
{"data":{"name":"candles"},"mark":{"type":"rule","strokeWidth":1},"encoding":{"x":{"field":"i","type":"quantitative","axis":null},"y":{"field":"h","type":"quantitative","title":null},"y2":{"field":"l"},"color":{"condition":{"test":"datum.o==datum.c","value":"#00ff00"},"value":"#000000"}}},
{"data":{"name":"candles"},"transform":[{"filter":"datum.o!=datum.c"}],"mark":{"type":"rule","strokeWidth":3.4,"strokeCap":"square","color":"#000000"},"encoding":{"x":{"field":"i","type":"quantitative","axis":null},"y":{"field":"o","type":"quantitative","title":null},"y2":{"field":"c"}}},
{"data":{"name":"candles"},"transform":[{"filter":"datum.o!=datum.c"}],"mark":{"type":"rule","strokeWidth":1.8},"encoding":{"x":{"field":"i","type":"quantitative","axis":null},"y":{"field":"o","type":"quantitative","title":null},"y2":{"field":"c"},"color":{"condition":{"test":"datum.c>datum.o","value":"#00ff00"},"value":"#ff0000"}}},
{"data":{"name":"candles"},"transform":[{"filter":"datum.o==datum.c"}],"mark":{"type":"tick","orient":"horizontal","size":3,"thickness":1,"color":"#00ff00","opacity":1},"encoding":{"x":{"field":"i","type":"quantitative","axis":null},"y":{"field":"o","type":"quantitative","title":null}}},
{"data":{"name":"ma"},"mark":{"type":"line","color":"#00b4f5","strokeWidth":3,"clip":true,"interpolate":"monotone"},"encoding":{"x":{"field":"i","type":"quantitative","axis":null},"y":{"field":"p","type":"quantitative","title":null}}},
{"data":{"name":"bup"},"mark":{"type":"line","color":"#ffff00","strokeWidth":1,"strokeDash":[12,3],"clip":true},"encoding":{"x":{"field":"i","type":"quantitative","axis":null},"y":{"field":"p","type":"quantitative","title":null}}},
{"data":{"name":"bmid"},"mark":{"type":"line","color":"#ffff00","strokeWidth":1,"strokeDash":[12,3],"clip":true},"encoding":{"x":{"field":"i","type":"quantitative","axis":null},"y":{"field":"p","type":"quantitative","title":null}}},
{"data":{"name":"blow"},"mark":{"type":"line","color":"#ffff00","strokeWidth":1,"strokeDash":[12,3],"clip":true},"encoding":{"x":{"field":"i","type":"quantitative","axis":null},"y":{"field":"p","type":"quantitative","title":null}}},
{"data":{"name":"up"},"mark":{"type":"point","shape":"M0,-1L0.95,0.9L0,0.4L-0.95,0.9Z","filled":true,"fill":"#6a6a6a","stroke":"#404040","strokeWidth":1,"size":169,"opacity":1},"encoding":{"x":{"field":"i","type":"quantitative","axis":null},"y":{"field":"p","type":"quantitative","title":null}}},
{"data":{"name":"up"},"mark":{"type":"point","shape":"M0,-1L0,0.4L-0.95,0.9Z","filled":true,"fill":"#101010","opacity":1,"size":169},"encoding":{"x":{"field":"i","type":"quantitative","axis":null},"y":{"field":"p","type":"quantitative","title":null}}},
{"data":{"name":"down"},"mark":{"type":"point","shape":"M0,1L0.95,-0.9L0,-0.4L-0.95,-0.9Z","filled":true,"fill":"#6a6a6a","stroke":"#404040","strokeWidth":1,"size":169,"opacity":1},"encoding":{"x":{"field":"i","type":"quantitative","axis":null},"y":{"field":"p","type":"quantitative","title":null}}},
{"data":{"name":"down"},"mark":{"type":"point","shape":"M0,1L0,-0.4L0.95,-0.9Z","filled":true,"fill":"#101010","opacity":1,"size":169},"encoding":{"x":{"field":"i","type":"quantitative","axis":null},"y":{"field":"p","type":"quantitative","title":null}}},
{"data":{"values":[{"i":-0.375,"i2":336.375,"p":1.23865},{"i":-0.375,"i2":336.375,"p":1.2327}]},"mark":{"type":"rule","color":"#ff0000","strokeWidth":2},"encoding":{"x":{"field":"i","type":"quantitative","axis":null},"x2":{"field":"i2"},"y":{"field":"p","type":"quantitative","title":null}}},
{"data":{"values":[{"i":-0.375,"i2":336.375,"p":1.2268},{"i":-0.375,"i2":336.375,"p":1.22055}]},"mark":{"type":"rule","color":"#32cd32","strokeWidth":2},"encoding":{"x":{"field":"i","type":"quantitative","axis":null},"x2":{"field":"i2"},"y":{"field":"p","type":"quantitative","title":null}}},
{"data":{"values":[{"i":269.9,"i2":336.375,"p":1.2268},{"i":269.9,"i2":336.375,"p":1.2331}]},"mark":{"type":"rule","color":"#ffff40","strokeWidth":1},"encoding":{"x":{"field":"i","type":"quantitative","axis":null},"x2":{"field":"i2"},"y":{"field":"p","type":"quantitative","title":null}}},
{"data":{"values":[{"i":269.9,"p":1.2268},{"i":314.2,"p":1.23295}]},"mark":{"type":"line","color":"#ff0000","strokeWidth":1,"strokeDash":[2,3]},"encoding":{"x":{"field":"i","type":"quantitative","axis":null},"y":{"field":"p","type":"quantitative","title":null}}},
{"data":{"values":[{"i":336.9,"i2":346.1,"a":1.23883,"b":1.23847,"col":"#ff0000"},{"i":336.9,"i2":346.1,"a":1.23288,"b":1.23252,"col":"#ff0000"},{"i":336.9,"i2":346.1,"a":1.23148,"b":1.23112,"col":"#000000"},{"i":336.9,"i2":346.1,"a":1.22698,"b":1.22662,"col":"#32cd32"},{"i":336.9,"i2":346.1,"a":1.22073,"b":1.22037,"col":"#32cd32"}]},"mark":{"type":"rect"},"encoding":{"x":{"field":"i","type":"quantitative","axis":null},"x2":{"field":"i2"},"y":{"field":"a","type":"quantitative","title":null},"y2":{"field":"b"},"fill":{"field":"col","type":"nominal","scale":null}}},
{"data":{"values":[{"i":337.7,"p":1.23865,"t":"1.2386","col":"#ffd8d8"},{"i":337.7,"p":1.2327,"t":"1.2327","col":"#ffd8d8"},{"i":337.7,"p":1.2313,"t":"1.2313","col":"#ffffff"},{"i":337.7,"p":1.2268,"t":"1.2268","col":"#6a9a6a"},{"i":337.7,"p":1.22055,"t":"1.2205","col":"#6a9a6a"}]},"mark":{"type":"text","align":"left","baseline":"middle","fontSize":9.5,"font":"Liberation Sans"},"encoding":{"x":{"field":"i","type":"quantitative","axis":null},"y":{"field":"p","type":"quantitative","title":null},"text":{"field":"t"},"color":{"field":"col","type":"nominal","scale":null}}},
{"data":{"values":[{"i":336.2,"p":1.23327,"t":"SL"},{"i":336.2,"p":1.22704,"t":"ENTRY"},{"i":336.2,"p":1.22076,"t":"1:1"}]},"mark":{"type":"text","align":"right","baseline":"middle","fontSize":10,"font":"Liberation Sans","color":"#ffff40"},"encoding":{"x":{"field":"i","type":"quantitative","axis":null},"y":{"field":"p","type":"quantitative","title":null},"text":{"field":"t"}}},
{"data":{"values":[{"i":3.7,"p":1.23977,"t":"GBPUSD,H1  1.2311 1.2315 1.2304 1.2313"}]},"mark":{"type":"text","align":"left","baseline":"middle","fontSize":9.5,"font":"Liberation Sans","color":"#101010"},"encoding":{"x":{"field":"i","type":"quantitative","axis":null},"y":{"field":"p","type":"quantitative","title":null},"text":{"field":"t"}}},
{"data":{"values":[{"i":1.2,"p":1.23972}]},"mark":{"type":"point","shape":"triangle-down","filled":true,"color":"#000000","size":28,"opacity":1},"encoding":{"x":{"field":"i","type":"quantitative","axis":null},"y":{"field":"p","type":"quantitative","title":null}}}
]},
{"width":1347,"height":114,"layer":[
{"data":{"name":"seps"},"mark":{"type":"rule","color":"#000000","strokeWidth":1,"strokeDash":[3,3]},"encoding":{"x":{"field":"i","type":"quantitative","title":null,"scale":{"domain":[-0.375,336.375],"nice":false,"zero":false,"padding":0},"axis":{"title":null,"values":[0,16,32,48,64,80,96,112,128,144,160,176,192,208,224,240,256],"labelExpr":"['20 Dec 2016','21 Dec 05:00','21 Dec 21:00','22 Dec 13:00','23 Dec 05:00','23 Dec 21:00','26 Dec 19:00','27 Dec 11:00','28 Dec 03:00','28 Dec 19:00','29 Dec 11:00','30 Dec 03:00','30 Dec 19:00','2 Jan 11:00','3 Jan 03:00','3 Jan 19:00','4 Jan 11:00'][datum.value/16]","labelAlign":"left","labelBaseline":"top","labelPadding":1,"labelAngle":0}}}},
{"data":{"name":"hist"},"mark":{"type":"rule","strokeWidth":3},"encoding":{"x":{"field":"i","type":"quantitative","title":null},"y":{"field":"m","type":"quantitative","title":null,"scale":{"domain":[-0.00299,0.00315],"nice":false,"zero":false},"axis":{"orient":"right","title":null,"values":[0.0028,0,-0.0027],"labelExpr":"datum.value==0?'0.00':format(datum.value,'.4f')","labelPadding":2}},"y2":{"datum":0},"color":{"field":"t","type":"nominal","scale":{"domain":["g","m","r"],"range":["#00ff00","#ff00ff","#ff0000"]},"legend":null}}},
{"data":{"name":"hist"},"mark":{"type":"line","color":"#c0c0c0","strokeWidth":1},"encoding":{"x":{"field":"i","type":"quantitative","title":null},"y":{"field":"m","type":"quantitative","title":null}}},
{"data":{"name":"aqua"},"mark":{"type":"line","color":"#7fffd4","strokeWidth":1},"encoding":{"x":{"field":"i","type":"quantitative","title":null},"y":{"field":"m","type":"quantitative","title":null}}},
{"data":{"name":"sig"},"mark":{"type":"line","color":"#ff0000","strokeWidth":1},"encoding":{"x":{"field":"i","type":"quantitative","title":null},"y":{"field":"m","type":"quantitative","title":null}}},
{"data":{"values":[{"i":0.9,"m":0.00269,"t":"MACD(12,26,9) 0.0012 0.0000 0.0000 0.0012 0.0009 0.0015"}]},"mark":{"type":"text","align":"left","baseline":"middle","fontSize":9.5,"font":"Liberation Sans","color":"#101010"},"encoding":{"x":{"field":"i","type":"quantitative","title":null},"y":{"field":"m","type":"quantitative","title":null},"text":{"field":"t"}}},
{"data":{"values":[{"i":3.4,"i2":59.9,"a":-0.0014,"b":-0.00334}]},"mark":{"type":"rect","fill":"#c64a4a","stroke":"#d98080","strokeWidth":1,"opacity":0.92},"encoding":{"x":{"field":"i","type":"quantitative","title":null},"x2":{"field":"i2"},"y":{"field":"a","type":"quantitative","title":null},"y2":{"field":"b"}}},
{"data":{"values":[{"i":6.9,"m":-0.00235,"t":"["},{"i":56.3,"m":-0.00235,"t":"]"}]},"mark":{"type":"text","align":"left","baseline":"middle","fontSize":20,"font":"Open Sans","color":"#ffffff"},"encoding":{"x":{"field":"i","type":"quantitative","title":null},"y":{"field":"m","type":"quantitative","title":null},"text":{"field":"t"}}},
{"data":{"values":[{"i":10.5,"m":-0.00237,"t":"www.instaforex"}]},"mark":{"type":"text","align":"left","baseline":"middle","fontSize":20,"font":"Open Sans","color":"#ffffff"},"encoding":{"x":{"field":"i","type":"quantitative","title":null},"y":{"field":"m","type":"quantitative","title":null},"text":{"field":"t"}}},
{"data":{"values":[{"i":47.2,"m":-0.00237,"t":".com"}]},"mark":{"type":"text","align":"left","baseline":"middle","fontSize":15,"font":"Open Sans","color":"#ffffff"},"encoding":{"x":{"field":"i","type":"quantitative","title":null},"y":{"field":"m","type":"quantitative","title":null},"text":{"field":"t"}}}
]}
]}
